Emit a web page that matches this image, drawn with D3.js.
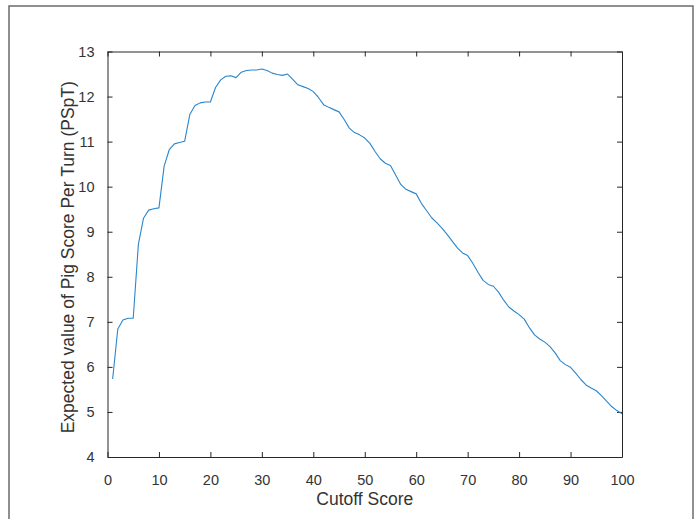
<!DOCTYPE html>
<html>
<head>
<meta charset="utf-8">
<script src="https://cdn.jsdelivr.net/npm/d3@7"></script>
<style>
    body { margin: 0; background: #fff; }
    svg { display: block; font-family: "Liberation Sans", Arial, Helvetica, sans-serif; }
    .axis text { fill: #333; font-size: 14.5px; }
    .axis-title { fill: #333; font-size: 17.5px; }
</style>
</head>
<body>
<div id="chart"></div>
<script>
// Cutoff scores 1..100
const cutoff = d3.range(1, 101);

// Expected value of pig score per turn
const pspt = [
    5.73, 6.84, 7.04, 7.08, 7.08, 8.72, 9.30, 9.48, 9.51, 9.53,
    10.45, 10.82, 10.95, 10.98, 11.01, 11.60, 11.80, 11.86, 11.88, 11.88,
    12.20, 12.37, 12.45, 12.46, 12.42, 12.54, 12.58, 12.59, 12.59, 12.61,
    12.58, 12.52, 12.49, 12.47, 12.50, 12.38, 12.26, 12.22, 12.18, 12.11,
    11.98, 11.82, 11.76, 11.71, 11.66, 11.49, 11.30, 11.20, 11.15, 11.08,
    10.96, 10.78, 10.62, 10.52, 10.47, 10.26, 10.05, 9.94, 9.89, 9.84,
    9.63, 9.47, 9.31, 9.20, 9.08, 8.94, 8.79, 8.64, 8.53, 8.47,
    8.30, 8.10, 7.92, 7.83, 7.79, 7.66, 7.48, 7.33, 7.24, 7.16,
    7.06, 6.87, 6.71, 6.62, 6.55, 6.45, 6.31, 6.14, 6.05, 5.99,
    5.86, 5.72, 5.60, 5.53, 5.47, 5.36, 5.24, 5.12, 5.03, 4.96
];

const xTicks = [0, 10, 20, 30, 40, 50, 60, 70, 80, 90, 100];
const yTicks = [4, 5, 6, 7, 8, 9, 10, 11, 12, 13];

// Figure size and axes position
const W = 700, H = 519;
const margin = { top: 51.5, right: 78, bottom: 62, left: 107.5 };
const width = W - margin.left - margin.right;
const height = H - margin.top - margin.bottom;
const tickLen = 5;
const axisColor = "#262626";

const svgContainer = d3.select("#chart")
    .append("svg")
    .attr("width", W)
    .attr("height", H);

// Figure frame
svgContainer.append("rect")
    .attr("x", 9)
    .attr("y", 6)
    .attr("width", 684)
    .attr("height", 540)
    .attr("fill", "none")
    .attr("stroke", "#6b6b6b")
    .attr("stroke-width", 1.5);

const svg = svgContainer.append("g")
    .attr("transform", `translate(${margin.left},${margin.top})`);

const x = d3.scaleLinear().domain([0, 100]).range([0, width]);
const y = d3.scaleLinear().domain([4, 13]).range([height, 0]);

// Bottom axis (ticks inward)
svg.append("g")
    .attr("class", "axis")
    .attr("transform", `translate(0,${height})`)
    .call(d3.axisBottom(x).tickValues(xTicks).tickSizeInner(-tickLen).tickSizeOuter(0).tickPadding(18));

// Top axis, ticks only
svg.append("g")
    .attr("class", "axis")
    .call(d3.axisTop(x).tickValues(xTicks).tickSizeInner(-tickLen).tickSizeOuter(0).tickFormat(""));

// Left axis
svg.append("g")
    .attr("class", "axis")
    .call(d3.axisLeft(y).tickValues(yTicks).tickSizeInner(-tickLen).tickSizeOuter(0).tickPadding(13));

// Right axis, ticks only
svg.append("g")
    .attr("class", "axis")
    .attr("transform", `translate(${width},0)`)
    .call(d3.axisRight(y).tickValues(yTicks).tickSizeInner(-tickLen).tickSizeOuter(0).tickFormat(""));

svg.selectAll(".axis .domain").attr("stroke", axisColor);
svg.selectAll(".axis .tick line").attr("stroke", axisColor);

// Axis titles
svg.append("text")
    .attr("class", "axis-title")
    .attr("x", width / 2)
    .attr("y", height + 48)
    .attr("text-anchor", "middle")
    .text("Cutoff Score");

svg.append("text")
    .attr("class", "axis-title")
    .attr("transform", `translate(${-34},${height / 2 + 3}) rotate(-90)`)
    .attr("text-anchor", "middle")
    .text("Expected value of Pig Score Per Turn (PSpT)");

// Data line
const line = d3.line()
    .x((d, i) => x(cutoff[i]))
    .y(d => y(d));

svg.append("path")
    .datum(pspt)
    .attr("fill", "none")
    .attr("stroke", "#2a86cc")
    .attr("stroke-width", 1.1)
    .attr("stroke-linejoin", "round")
    .attr("d", line);
</script>
</body>
</html>
